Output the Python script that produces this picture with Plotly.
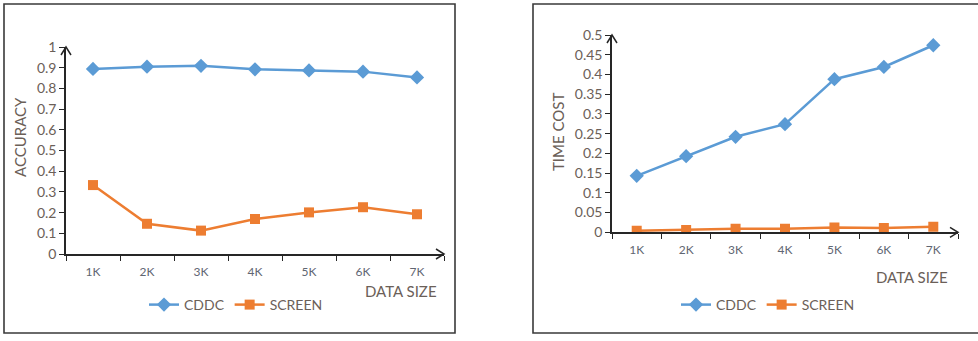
import plotly.graph_objects as go

# ---- data ----
data_sizes = ["1K", "2K", "3K", "4K", "5K", "6K", "7K"]
accuracy_cddc = [0.894, 0.905, 0.909, 0.892, 0.887, 0.881, 0.853]
accuracy_screen = [0.333, 0.146, 0.113, 0.169, 0.201, 0.226, 0.192]
time_cddc = [0.143, 0.193, 0.242, 0.274, 0.388, 0.419, 0.474]
time_screen = [0.004, 0.006, 0.009, 0.009, 0.012, 0.011, 0.014]

W, H = 978, 341
BLUE = "#5b9bd5"
ORANGE = "#ed7d31"
AXIS = "#262626"
LABEL = "#6b6058"
TICKX = "#5f6672"
FONT = "Lato, 'Open Sans', sans-serif"


def px(x):
    return x / W


def py(y):
    return 1 - y / H


# panel geometry in pixels: (x0, x1, y_top, y_bottom)
left_box = (66, 444, 47, 254)
right_box = (612, 958, 35, 232.3)

fig = go.Figure()

series = [
    ("CDDC", accuracy_cddc, time_cddc, BLUE, "diamond", 11),
    ("SCREEN", accuracy_screen, time_screen, ORANGE, "square", 10),
]
for name, acc, tc, color, symbol, size in series:
    fig.add_trace(go.Scatter(
        x=data_sizes, y=acc, name=name, mode="lines+markers",
        line=dict(color=color, width=2.5),
        marker=dict(symbol=symbol, size=size, color=color),
        xaxis="x", yaxis="y", legend="legend",
    ))
    fig.add_trace(go.Scatter(
        x=data_sizes, y=tc, name=name, mode="lines+markers",
        line=dict(color=color, width=2.5),
        marker=dict(symbol=symbol, size=size, color=color),
        xaxis="x2", yaxis="y2", legend="legend2",
    ))

xaxis_common = dict(
    type="category", showgrid=False, zeroline=False, showline=True,
    linecolor=AXIS, linewidth=1.5, ticks="outside", ticklen=5,
    tickcolor=AXIS, tickwidth=1.3, tickson="boundaries",
    tickfont=dict(family=FONT, size=12, color=TICKX),
    ticklabelstandoff=6,
    range=[-0.5, 6.5], fixedrange=True, automargin=False,
)
yaxis_common = dict(
    showgrid=False, zeroline=False, showline=True,
    linecolor=AXIS, linewidth=1.5, ticks="outside", ticklen=5,
    tickcolor=AXIS, tickwidth=1.3,
    tickfont=dict(family=FONT, size=14, color=LABEL),
    fixedrange=True, automargin=False,
)

fig.update_layout(
    width=W, height=H,
    margin=dict(l=0, r=0, t=0, b=0, autoexpand=False),
    paper_bgcolor="white", plot_bgcolor="white",
    showlegend=True,
    font=dict(family=FONT, color=LABEL),
    xaxis=dict(xaxis_common, domain=[px(left_box[0]), px(left_box[1])], anchor="y"),
    yaxis=dict(yaxis_common, domain=[py(left_box[3]), py(left_box[2])],
               range=[0, 1], dtick=0.1, anchor="x"),
    xaxis2=dict(xaxis_common, domain=[px(right_box[0]), px(right_box[1])], anchor="y2"),
    yaxis2=dict(yaxis_common, domain=[py(right_box[3]), py(right_box[2])],
                range=[0, 0.5], dtick=0.05, anchor="x2"),
    legend=dict(orientation="h", x=px(236), y=py(305), xanchor="center", yanchor="middle",
                font=dict(family=FONT, size=14, color=LABEL), itemwidth=30,
                bgcolor="rgba(0,0,0,0)"),
    legend2=dict(orientation="h", x=px(768), y=py(305), xanchor="center", yanchor="middle",
                 font=dict(family=FONT, size=14, color=LABEL), itemwidth=30,
                 bgcolor="rgba(0,0,0,0)"),
)

shapes = []
# panel frames
for x0, y0, x1, y1 in [(4, 4, 455, 333), (533, 4, 985, 333)]:
    shapes.append(dict(type="rect", xref="paper", yref="paper",
                       x0=px(x0), x1=px(x1), y0=py(y0), y1=py(y1),
                       line=dict(color="#3a3a3a", width=1.6), fillcolor="rgba(0,0,0,0)"))


def chevron(points):
    d = "M {} {} L {} {} L {} {}".format(*[v for p in points for v in (px(p[0]), py(p[1]))])
    return dict(type="path", xref="paper", yref="paper", path=d,
                line=dict(color=AXIS, width=1.5))


for x0, x1, yt, yb in (left_box, right_box):
    # arrow at the top of the value axis
    shapes.append(chevron([(x0 - 5, yt + 8), (x0, yt), (x0 + 5, yt + 8)]))
    # arrow at the end of the category axis
    shapes.append(chevron([(x1 - 8, yb - 5), (x1, yb), (x1 - 8, yb + 5)]))

fig.update_layout(shapes=shapes)

annotations = [
    dict(text="ACCURACY", x=px(20), y=py(137), textangle=-90),
    dict(text="TIME COST", x=px(558), y=py(132), textangle=-90),
    dict(text="DATA SIZE", x=px(401), y=py(291)),
    dict(text="DATA SIZE", x=px(912), y=py(277)),
]
for a in annotations:
    a.update(xref="paper", yref="paper", showarrow=False, xanchor="center", yanchor="middle",
             font=dict(family=FONT, size=15, color=LABEL))
fig.update_layout(annotations=annotations)

fig.write_html("out.html")
